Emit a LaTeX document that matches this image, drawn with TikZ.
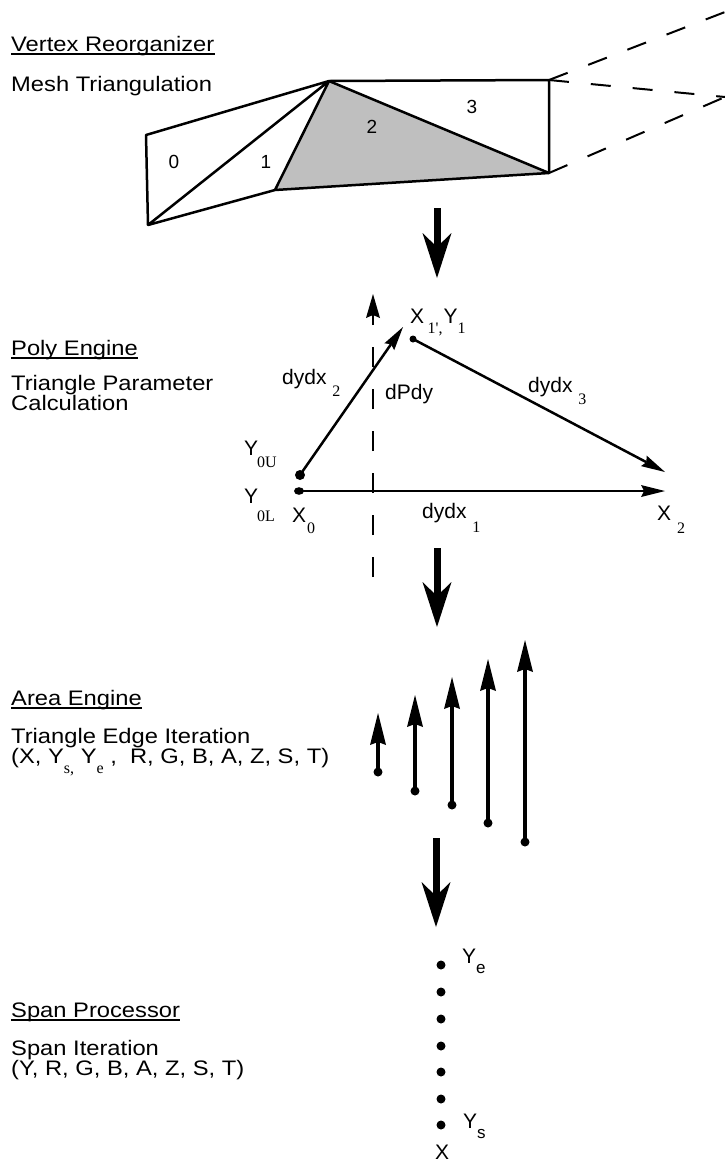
\documentclass[tikz,border=0pt]{standalone}
\usepackage{fontspec}
\setmainfont{Liberation Sans}
\newfontfamily\lblfont{Liberation Sans}
\newfontfamily\hdfont[FakeStretch=1.13]{Liberation Sans}
\newfontfamily\srffont{Liberation Serif}
\usetikzlibrary{arrows.meta}
\newcommand\sbs[2][12pt]{\raisebox{-#1}{\srffont\fontsize{16}{16}\selectfont #2}}
\newcommand\sbsans[2][10pt]{\raisebox{-#1}{\lblfont\fontsize{17}{17}\selectfont #2}}
\tikzset{
  txt/.style={inner sep=0pt, anchor=base west, font=\hdfont\fontsize{21}{21}\selectfont},
  lab/.style={inner sep=0pt, anchor=base west, font=\lblfont\fontsize{21}{21}\selectfont},
  num/.style={inner sep=0pt, font=\lblfont\fontsize{19}{19}\selectfont},
  ulline/.style={line width=1.5pt},
  edge/.style={line width=2.5pt, line join=round},
  shadetri/.style={fill=black!25},
  dashln/.style={line width=2pt, dash pattern=on 20pt off 22pt},
  bigarrow/.style={line width=7pt, -{Stealth[length=45pt,width=29pt,inset=14pt,line width=0pt]}},
  thinarrow/.style={line width=2.5pt, -{Stealth[length=24pt,width=12pt,inset=3pt,line width=0pt]}},
  dasharrow/.style={line width=2.5pt, dash pattern=on 20pt off 22pt, -{Stealth[length=24pt,width=14pt,inset=3pt,line width=0pt]}},
  uparrow/.style={line width=4pt, -{Stealth[length=32pt,width=16pt,inset=3pt,line width=0pt]}},
  dotfill/.style={fill=black},
}
\begin{document}
\begin{tikzpicture}[x=1pt,y=-1pt]
\fill[white] (0,0) rectangle (725,1163);
\useasboundingbox (0,0) rectangle (725,1163);

% ---------- Section 1: Vertex Reorganizer ----------
\node[txt] (vr) at (11,51) {Vertex Reorganizer};
\draw[ulline] ([yshift=-3pt]vr.base west) -- ([yshift=-3pt]vr.base east);
\node[txt] (mt) at (11,91) {Mesh Triangulation};

\coordinate (p0) at (146,135);
\coordinate (pb) at (148,225);
\coordinate (pt) at (329,81);
\coordinate (pm) at (275,190);
\coordinate (pr1) at (549,80);
\coordinate (pr2) at (549,173);
\fill[shadetri] (pt) -- (pm) -- (pr2) -- cycle;
\draw[edge] (pb) -- (p0) -- (pt) -- (pr1) -- (pr2) -- (pm) -- (pb) -- (pt) -- (pm);
\draw[edge] (pt) -- (pr2);
\node[num] (n0) at (174,162) {0};
\node[num] (n1) at (266,162) {1};
\node[num] (n2) at (372,127) {2};
\node[num] (n3) at (472,107) {3};

\coordinate (d1) at (725,12);
\coordinate (d2) at (725,97);
\draw[dashln] (pr1) -- (d1);
\draw[dashln] (pr1) -- (d2);
\draw[dashln] (pr2) -- (d2);

\coordinate (a1s) at (437,208);
\coordinate (a1e) at (437,278);
\draw[bigarrow] (a1s) -- (a1e);

% ---------- Section 2: Poly Engine ----------
\node[txt] (pe) at (11,355) {Poly Engine};
\draw[ulline] ([yshift=-3pt]pe.base west) -- ([yshift=-3pt]pe.base east);
\node[txt] (tp1) at (11,390) {Triangle Parameter};
\node[txt] (tp2) at (11,410) {Calculation};

\coordinate (dps) at (373,577);
\coordinate (dpe) at (373,294);
\draw[dasharrow] (dps) -- (dpe);

\coordinate (y0u) at (300,475);
\coordinate (y0l) at (299,491);
\coordinate (x1) at (413,339);
\coordinate (t2) at (403,327);
\coordinate (t3) at (665,472);
\coordinate (x2) at (665,491);
\draw[thinarrow] (y0u) -- (t2);
\draw[thinarrow] (x1) -- (t3);
\draw[thinarrow] (y0l) -- (x2);
\fill[dotfill] (y0u) circle[radius=5pt];
\fill[dotfill] (y0l) circle[x radius=5pt, y radius=3.8pt];
\fill[dotfill] (x1) circle[radius=3.5pt];

\node[lab] (lx1) at (410,323) {X\,\sbs[10pt]{1',}\kern1pt Y\sbs[10pt]{1}};
\node[lab] (ldy2) at (282,384) {dydx \sbs{2}};
\node[lab] (ldp) at (385,399) {dPdy};
\node[lab] (ldy3) at (528,392) {dydx \sbs{3}};
\node[lab] (ly0u) at (244,455) {Y\kern-1pt\sbs[12pt]{0U}};
\node[lab] (ly0l) at (244,503) {Y\kern-1pt\sbs[18pt]{0L}};
\node[lab] (lx0) at (292,522) {X\kern1pt\sbs[11pt]{0}};
\node[lab] (ldy1) at (422,518) {dydx \sbs[14pt]{1}};
\node[lab] (lx2) at (657,520) {X \sbs[13pt]{2}};

\coordinate (a2s) at (437,548);
\coordinate (a2e) at (437,627);
\draw[bigarrow] (a2s) -- (a2e);

% ---------- Section 3: Area Engine ----------
\node[txt] (ae) at (11,705) {Area Engine};
\draw[ulline] ([yshift=-3pt]ae.base west) -- ([yshift=-3pt]ae.base east);
\node[txt] (te1) at (11,743) {Triangle Edge Iteration};
\node[txt] (te2) at (11,763) {(X, Y\sbs[10pt]{s,} Y\sbs[10pt]{e} ,\ \ R, G, B, A, Z, S, T)};

\coordinate (b1) at (378,772); \coordinate (e1) at (378,713);
\coordinate (b2) at (415,791); \coordinate (e2) at (415,695);
\coordinate (b3) at (452,805); \coordinate (e3) at (452,677);
\coordinate (b4) at (488,823); \coordinate (e4) at (488,659);
\coordinate (b5) at (525,842); \coordinate (e5) at (525,640);
\foreach \i in {1,...,5}{
  \draw[uparrow] (b\i) -- (e\i);
  \fill[dotfill] (b\i) circle[radius=4.5pt];
}

\coordinate (a3s) at (436,838);
\coordinate (a3e) at (436,927);
\draw[bigarrow] (a3s) -- (a3e);

% ---------- Section 4: Span Processor ----------
\node[txt] (sp) at (11,1017) {Span Processor};
\draw[ulline] ([yshift=-3pt]sp.base west) -- ([yshift=-3pt]sp.base east);
\node[txt] (si1) at (11,1055) {Span Iteration};
\node[txt] (si2) at (11,1075) {(Y, R, G, B, A, Z, S, T)};

\foreach \yy [count=\k] in {965,992,1019,1046,1072,1099,1125}{
  \coordinate (s\k) at (441,\yy);
  \fill[dotfill] (s\k) circle[radius=4.5pt];
}
\node[lab] (lye) at (462,963) {Y\sbsans{e}};
\node[lab] (lys) at (463,1128) {Y\sbsans{s}};
\node[lab] (lxx) at (435,1159) {X};
\end{tikzpicture}
\end{document}
